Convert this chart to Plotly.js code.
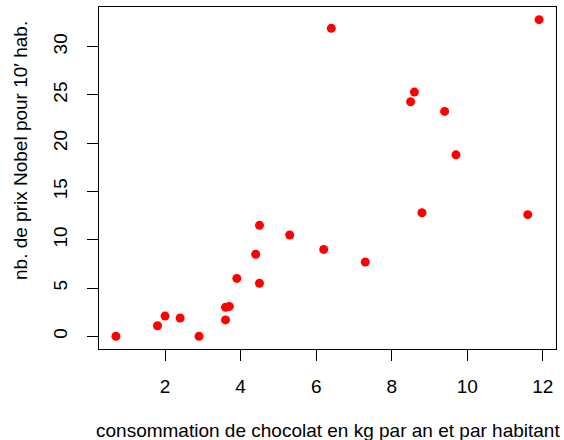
<!DOCTYPE html>
<html>
<head>
<meta charset="utf-8">
<script src="https://cdn.plot.ly/plotly-3.0.1.min.js"></script>
<style>
  html, body { margin: 0; padding: 0; background: #ffffff; }
  #chart { width: 564px; height: 440px; }
</style>
</head>
<body>
<div id="chart"></div>
<script>
// Chocolate consumption (kg per year per person) vs Nobel laureates per 10^7 inhabitants
const chocolate = [0.7, 1.8, 2.0, 2.4, 2.9, 3.6, 3.6, 3.7, 3.9, 4.4, 4.5, 4.5, 5.3, 6.2, 7.3, 8.8, 11.6, 9.7, 9.4, 8.5, 8.6, 6.4, 11.9];
const nobel     = [0.0, 1.1, 2.1, 1.9, 0.0, 1.7, 3.0, 3.1, 6.0, 8.5, 5.5, 11.5, 10.5, 9.0, 7.7, 12.8, 12.6, 18.8, 23.3, 24.3, 25.3, 31.9, 32.8];

const xTicks = [2, 4, 6, 8, 10, 12];
const yTicks = [0, 5, 10, 15, 20, 25, 30];

const xLabel = 'consommation de chocolat en kg par an et par habitant';
const yLabel = 'nb. de prix Nobel pour 10′ hab.';

// Axis ranges padded by 4% on each side, as base R graphics does
function padded(values) {
  const lo = Math.min(...values), hi = Math.max(...values);
  const pad = (hi - lo) * 0.04;
  return [lo - pad, hi + pad];
}

const font = { family: 'Liberation Sans, Arial, sans-serif', size: 19, color: '#000000' };

const W = 564, H = 440;
const margin = { l: 99, r: 8, t: 7, b: 91, pad: 0 };
const plotW = W - margin.l - margin.r;
const plotH = H - margin.t - margin.b;

const trace = {
  type: 'scatter',
  mode: 'markers',
  x: chocolate,
  y: nobel,
  marker: { color: '#ff0000', size: 9, line: { width: 0 } },
  hoverinfo: 'x+y'
};

const axisCommon = {
  showgrid: false,
  zeroline: false,
  showline: true,
  mirror: true,
  linecolor: '#000000',
  linewidth: 1,
  ticks: 'outside',
  ticklen: 11,
  tickwidth: 1,
  tickcolor: '#000000',
  tickfont: font,
  tickmode: 'array'
};

const layout = {
  width: W,
  height: H,
  margin: margin,
  paper_bgcolor: '#ffffff',
  plot_bgcolor: '#ffffff',
  showlegend: false,
  font: font,
  xaxis: Object.assign({}, axisCommon, {
    range: padded(chocolate),
    tickvals: xTicks,
    ticktext: xTicks.map(String),
    ticklabelstandoff: 9
  }),
  yaxis: Object.assign({}, axisCommon, {
    range: padded(nobel),
    tickvals: yTicks,
    ticktext: yTicks.map(String),
    tickangle: -90,
    ticklabelstandoff: 12
  }),
  annotations: [
    {
      text: xLabel,
      xref: 'paper', yref: 'paper',
      x: (327.5 - margin.l) / plotW,
      y: -(430 - (margin.t + plotH)) / plotH,
      xanchor: 'center', yanchor: 'middle',
      showarrow: false,
      font: font
    },
    {
      text: yLabel,
      textangle: -90,
      xref: 'paper', yref: 'paper',
      x: (20 - margin.l) / plotW,
      y: ((margin.t + plotH) - 151) / plotH,
      xanchor: 'center', yanchor: 'middle',
      showarrow: false,
      font: font
    }
  ]
};

Plotly.newPlot('chart', [trace], layout, { displayModeBar: false, staticPlot: true });
</script>
</body>
</html>
